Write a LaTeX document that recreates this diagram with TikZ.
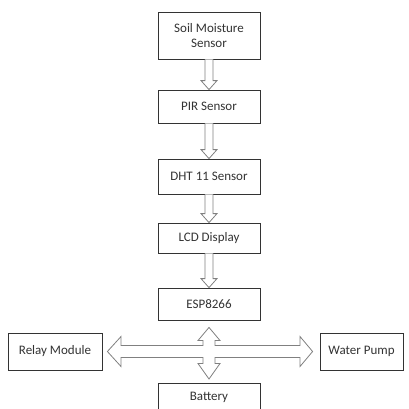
\documentclass[tikz,border=0pt]{standalone}
\usepackage{fontspec}
\setmainfont{Carlito}
\usetikzlibrary{calc}
\begin{document}
\begin{tikzpicture}[x=1pt,y=1pt,
  blk/.style={draw=black!80,line width=0.8pt,fill=white,align=center,inner sep=0pt,
    font=\fontsize{13}{15}\selectfont,text=black!80},
  arr/.style={draw=black!50,line width=0.8pt,fill=white,line join=miter}]
\useasboundingbox (0,0) rectangle (409,-408);
\clip (0,0) rectangle (409,-408);
\node[blk,minimum width=102pt,minimum height=47pt] (soil) at (209,-35.5) {Soil Moisture\\Sensor};
\node[blk,minimum width=102pt,minimum height=33pt] (pir) at (209,-106.5) {PIR Sensor};
\node[blk,minimum width=102pt,minimum height=35pt] (dht) at (209,-176.5) {DHT 11 Sensor};
\node[blk,minimum width=102pt,minimum height=30pt] (lcd) at (209,-238) {LCD Display};
\node[blk,minimum width=102pt,minimum height=32pt] (esp) at (209,-304) {ESP8266};
\node[blk,minimum width=94pt,minimum height=37pt] (relay) at (55,-351.5) {Relay Module};
\node[blk,minimum width=83pt,minimum height=37pt] (pump) at (361.5,-351.5) {Water Pump};
\node[blk,minimum width=102pt,minimum height=32pt,anchor=north] (bat) at (209,-383) {};
\node[font=\fontsize{13}{15}\selectfont,text=black!80] (battxt) at (209,-397) {Battery};
\newcommand{\hollowdown}[2]{%
  \draw[arr] ($(#1.south)+(-4,0)$) -- ($(#2.north)+(-4,9)$) -- ($(#2.north)+(-8,9)$)
    -- (#2.north) -- ($(#2.north)+(8,9)$) -- ($(#2.north)+(4,9)$) -- ($(#1.south)+(4,0)$);}
\hollowdown{soil}{pir}
\hollowdown{pir}{dht}
\hollowdown{dht}{lcd}
\hollowdown{lcd}{esp}
\coordinate (c) at (esp.south |- relay.east);
\draw[arr] ($(esp.south)+(0,-7)$) -- ($(c)+(11,11)$) -- ($(c)+(6,11)$) -- ($(c)+(6,6)$)
  -- ($(c)+(91,6)$) -- ($(c)+(91,15)$) -- ($(pump.west)+(-7,0)$) -- ($(c)+(91,-15)$)
  -- ($(c)+(91,-6)$) -- ($(c)+(6,-6)$) -- ($(c)+(6,-12)$) -- ($(c)+(11,-12)$)
  -- ($(bat.north)+(0,4)$) -- ($(c)+(-11,-12)$) -- ($(c)+(-6,-12)$) -- ($(c)+(-6,-6)$)
  -- ($(c)+(-88,-6)$) -- ($(c)+(-88,-15)$) -- ($(relay.east)+(5,0)$) -- ($(c)+(-88,15)$)
  -- ($(c)+(-88,6)$) -- ($(c)+(-6,6)$) -- ($(c)+(-6,11)$) -- ($(c)+(-11,11)$) -- cycle;
\end{tikzpicture}
\end{document}
